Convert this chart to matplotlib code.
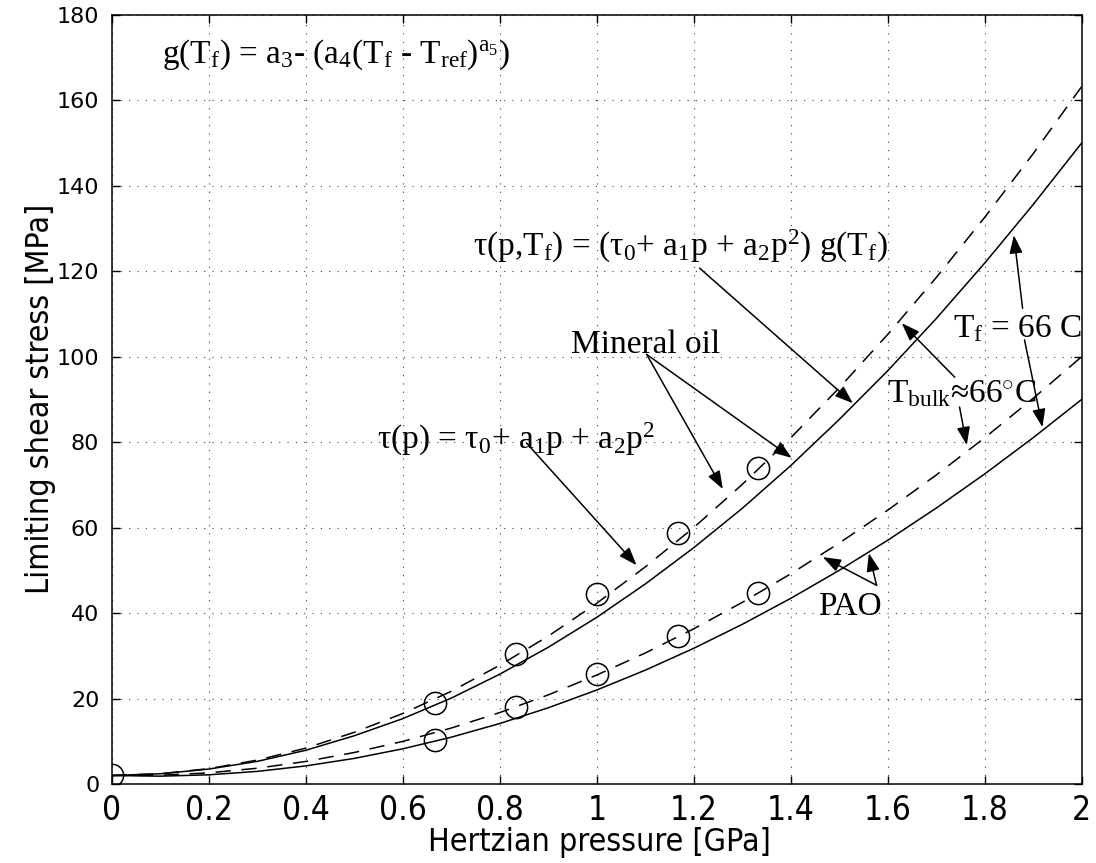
import numpy as np
import matplotlib
matplotlib.use('Agg')
import matplotlib.pyplot as plt
from matplotlib import font_manager

# limiting shear stress vs hertzian pressure, mineral oil and PAO

# fitted curves
p_fit = [0.0, 0.1, 0.2, 0.3, 0.4, 0.5, 0.6, 0.7, 0.8, 0.9, 1.0,
         1.1, 1.2, 1.3, 1.4, 1.5, 1.6, 1.7, 1.8, 1.9, 2.0]
mineral_tau_p = [2.0, 2.4, 3.6, 5.6, 8.4, 12.1, 16.5, 21.7, 27.8, 34.6, 42.3,
                 50.8, 60.0, 70.1, 81.0, 92.7, 105.2, 118.5, 132.6, 147.5, 163.2]
mineral_tau_pT = [2.0, 2.4, 3.5, 5.3, 7.9, 11.3, 15.3, 20.1, 25.7, 32.0, 39.0,
                  46.8, 55.3, 64.5, 74.5, 85.3, 96.7, 108.9, 121.9, 135.6, 150.0]
pao_tau_p = [2.0, 2.06, 2.62, 3.70, 5.28, 7.38, 9.98, 13.10, 16.72, 20.86, 25.5,
             30.66, 36.32, 42.50, 49.18, 56.38, 64.08, 72.30, 81.02, 90.26, 100.0]
pao_tau_pT = [2.0, 1.84, 2.16, 2.96, 4.24, 6.00, 8.24, 10.96, 14.16, 17.84, 22.0,
              26.64, 31.76, 37.36, 43.44, 50.0, 57.04, 64.56, 72.56, 81.04, 90.0]

# measured points
p_mineral = [0.0, 0.667, 0.833, 1.0, 1.167, 1.333]
tau_mineral = [2.0, 18.9, 30.4, 44.4, 58.7, 73.9]
p_pao = [0.667, 0.833, 1.0, 1.167, 1.333]
tau_pao = [10.3, 18.0, 25.7, 34.6, 44.7]

x_ticks = [0, 0.2, 0.4, 0.6, 0.8, 1, 1.2, 1.4, 1.6, 1.8, 2]
x_ticklabels = ['0', '0.2', '0.4', '0.6', '0.8', '1', '1.2', '1.4', '1.6', '1.8', '2']
y_ticks = [0, 20, 40, 60, 80, 100, 120, 140, 160, 180]

# fonts: condensed sans for axis text if one is installed, Times-like serif for annotations
narrow, stretch, narrow_size = 'DejaVu Sans', 'normal', 19
for f in font_manager.fontManager.ttflist:
	if 'Narrow' in f.name or (f.stretch in ('condensed', 'semi-condensed') and f.style == 'normal'
			and f.weight in (400, 'normal', 'regular') and 'Serif' not in f.name and 'Mono' not in f.name):
		narrow, stretch, narrow_size = f.name, f.stretch, 23
		break
serif = 'Liberation Serif'
plt.rcParams['mathtext.fontset'] = 'custom'
plt.rcParams['mathtext.rm'] = serif
plt.rcParams['mathtext.it'] = serif + ':italic'
plt.rcParams['mathtext.bf'] = serif + ':bold'

fig = plt.figure(figsize=(10.96, 8.63), dpi=100)
ax = fig.add_axes([0.102, 0.0915, 0.885, 0.8915])

ax.plot(p_fit, mineral_tau_pT, color='k', lw=1.1)
ax.plot(p_fit, pao_tau_pT, color='k', lw=1.1)
ax.plot(p_fit, mineral_tau_p, color='k', lw=1.1, dashes=(10, 7))
ax.plot(p_fit, pao_tau_p, color='k', lw=1.1, dashes=(10, 7))
ax.plot(p_mineral, tau_mineral, 'o', mfc='none', mec='k', ms=16, mew=1.1)
ax.plot(p_pao, tau_pao, 'o', mfc='none', mec='k', ms=16, mew=1.1)

ax.set_xlim(0, 2)
ax.set_ylim(0, 180)
ax.set_xticks(x_ticks)
ax.set_xticklabels(x_ticklabels, family=narrow, fontstretch=stretch, fontsize=narrow_size + 1)
ax.set_yticks(y_ticks)
ax.set_yticklabels([str(v) for v in y_ticks], family='DejaVu Sans', fontsize=16)
ax.tick_params(direction='in', length=6, width=1, top=True, right=True)
ax.tick_params(axis='x', pad=7)
ax.tick_params(axis='y', pad=9)
for s in ax.spines.values():
	s.set_linewidth(1.1)

ax.set_axisbelow(True)
ax.grid(True, color='0.25', linestyle=(0, (1, 6.5)), linewidth=0.8)

ax.set_xlabel('Hertzian pressure [GPa]', family=narrow, fontstretch=stretch, fontsize=narrow_size)
ax.set_ylabel('Limiting shear stress [MPa]', family=narrow, fontstretch=stretch, fontsize=narrow_size)
ax.xaxis.set_label_coords(0.503, -0.056)
ax.yaxis.set_label_coords(-0.058, 0.5)

# annotations
fs = 24
ax.text(0.103, 168.7, r'g(T$_\mathrm{f}$) = a$_3$- (a$_4$(T$_\mathrm{f}$ - T$_\mathrm{ref}$)$^{\mathrm{a}_5}$)',
	family=serif, fontsize=fs, va='baseline')
ax.text(0.744, 123.5, r'τ(p,T$_\mathrm{f}$) = (τ$_0$+ a$_1$p + a$_2$p$^2$) g(T$_\mathrm{f}$)',
	family=serif, fontsize=fs, va='baseline')
ax.text(0.946, 100.8, 'Mineral oil', family=serif, fontsize=fs, va='baseline')
ax.text(0.546, 78.4, r'τ(p) = τ$_0$+ a$_1$p + a$_2$p$^2$', family=serif, fontsize=fs, va='baseline')
ax.text(1.598, 89.4, r'T$_\mathrm{bulk}$≈66$^{\circ}$C', family=serif, fontsize=fs, va='baseline')
ax.text(1.734, 104.6, r'T$_\mathrm{f}$ = 66 C', family=serif, fontsize=fs, va='baseline')
ax.text(1.456, 39.6, 'PAO', family=serif, fontsize=fs, va='baseline')

arrows = [
	((1.212, 120.7), (1.528, 89.1)),   # tau(p,Tf) -> mineral solid
	((1.103, 100.5), (1.402, 76.3)),   # mineral oil
	((1.103, 100.5), (1.260, 69.0)),
	((0.855, 79.8), (1.082, 51.2)),    # tau(p) -> mineral dashed
	((1.738, 95.2), (1.629, 107.8)),   # T_bulk
	((1.748, 88.2), (1.763, 79.3)),
	((1.878, 111.3), (1.860, 128.4)),  # T_f
	((1.882, 103.9), (1.919, 83.5)),
	((1.577, 46.5), (1.466, 53.1)),    # PAO
	((1.577, 46.5), (1.561, 54.0)),
]
for start, tip in arrows:
	ax.annotate('', xy=tip, xytext=start,
		arrowprops=dict(arrowstyle='-|>,head_length=0.55,head_width=0.2', mutation_scale=20,
			lw=1.1, color='k', shrinkA=0, shrinkB=0))

fig.savefig('out.png', dpi=100)
